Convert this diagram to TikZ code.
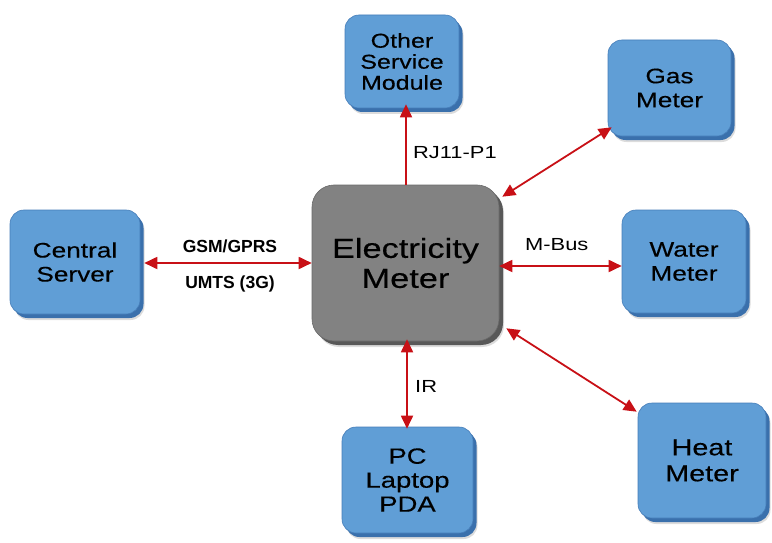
\documentclass[tikz,border=0pt]{standalone}
\usepackage{fontspec}
\setmainfont{Liberation Sans}
\newfontfamily\wf{Liberation Sans}[FakeStretch=1.25,FakeBold=0.3]
\newfontfamily\lf{Liberation Sans}[FakeStretch=1.25]
\usetikzlibrary{arrows.meta,shadows}
\definecolor{bfill}{RGB}{96,158,214}
\definecolor{bdark}{RGB}{58,112,172}
\definecolor{bedge}{RGB}{70,125,185}
\definecolor{gfill}{RGB}{130,130,130}
\definecolor{gdark}{RGB}{88,88,88}
\definecolor{gedge}{RGB}{105,105,105}
\definecolor{ared}{RGB}{200,16,22}
\tikzset{
  bluebox/.style={rounded corners=14pt, fill=bfill, draw=bedge, line width=0.6pt,
    inner sep=0pt, align=center, text=black,
    general shadow={fill=black!30, opacity=0.45, shadow xshift=4.5pt, shadow yshift=-6pt},
    general shadow={fill=bdark, shadow xshift=3.5pt, shadow yshift=-4pt}},
  graybox/.style={rounded corners=22pt, fill=gfill, draw=gedge, line width=0.6pt,
    inner sep=0pt, align=center, text=black,
    general shadow={fill=black!30, opacity=0.45, shadow xshift=5pt, shadow yshift=-6pt},
    general shadow={fill=gdark, shadow xshift=4pt, shadow yshift=-4pt}},
  conn/.style={draw=ared, line width=1.8pt, arrows={-Triangle[length=13pt,width=12pt]}},
  conn2/.style={draw=ared, line width=1.8pt, arrows={Triangle[length=13pt,width=12pt]-Triangle[length=13pt,width=12pt]}},
  lbl/.style={font=\lf\fontsize{17.5}{19}\selectfont, text=black, inner sep=0pt},
  blbl/.style={font=\bfseries\fontsize{17.5}{19}\selectfont, text=black, inner sep=0pt},
}
\begin{document}
\begin{tikzpicture}[x=1pt,y=-1pt]
\useasboundingbox (0,0) rectangle (772,543);
% Boxes
\node[graybox, minimum width=187pt, minimum height=156pt,
  font=\wf\fontsize{27.5}{30}\selectfont] (em) at (405.5,263) {Electricity\\Meter};
\node[bluebox, minimum width=114pt, minimum height=93pt,
  font=\wf\fontsize{20}{21}\selectfont] (osm) at (402,61.5) {Other\\Service\\Module};
\node[bluebox, minimum width=123pt, minimum height=96pt,
  font=\wf\fontsize{21}{24}\selectfont] (gas) at (669.5,88) {Gas\\Meter};
\node[bluebox, minimum width=124pt, minimum height=103pt,
  font=\wf\fontsize{21}{24}\selectfont] (water) at (684,261.5) {Water\\Meter};
\node[bluebox, minimum width=128pt, minimum height=115pt,
  font=\wf\fontsize{23}{26}\selectfont] (heat) at (702,460.5) {Heat\\Meter};
\node[bluebox, minimum width=131pt, minimum height=106pt,
  font=\wf\fontsize{22}{24}\selectfont] (pc) at (407.5,480) {PC\\Laptop\\PDA};
\node[bluebox, minimum width=130pt, minimum height=104pt,
  font=\wf\fontsize{21}{24}\selectfont] (cs) at (75,262) {Central\\Server};
% Connectors
\draw[conn] (em.north -| 406,0) -- ([yshift=4pt]osm.south -| 406,0);
\draw[conn2] ([shift={(3,12)}]em.north east) -- ([shift={(4,-9)}]gas.south west);
\draw[conn2] ([yshift=-3pt]em.east) -- ([yshift=-3pt]em.east -| water.west);
\draw[conn2] ([shift={(7,-13)}]em.south east) -- ([shift={(-1,9)}]heat.north west);
\draw[conn2] ([yshift=2pt]em.south -| 407,0) -- ([yshift=-2pt]pc.north -| 407,0);
\draw[conn2] ([xshift=4pt,yshift=-1pt]cs.east) -- ([yshift=-1pt]cs.east -| em.west);
% Labels
\node[lbl, anchor=base west] (rj) at (413,158) {RJ11-P1};
\node[lbl, anchor=base west] (mbus) at (525,250) {M-Bus};
\node[lbl, anchor=base west] (ir) at (415,392) {IR};
\node[blbl, anchor=base] (gsm) at (230,252) {GSM/GPRS};
\node[blbl, anchor=base] (umts) at (230,288) {UMTS (3G)};
\end{tikzpicture}
\end{document}
